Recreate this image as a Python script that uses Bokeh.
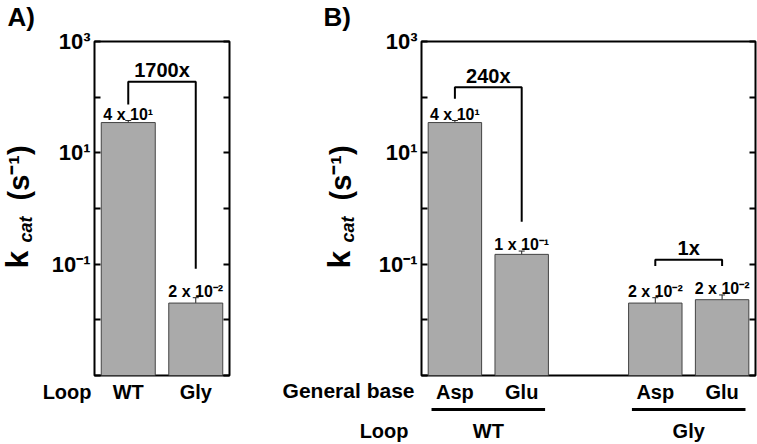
import math
from bokeh.plotting import figure
from bokeh.layouts import row
from bokeh.models import (Range1d, FixedTicker, LogAxis, Label, Whisker, TeeHead,
                          ColumnDataSource, GridBox)
from bokeh.core.properties import value
from bokeh.embed import file_html
from bokeh.resources import INLINE

FONT = "Liberation Sans"

# ---------------- data ----------------
# Panel A
a_loop = ["WT", "Gly"]
a_pos = [0, 1]
a_kcat = [35.0, 0.020]
a_err = [3.0, 0.005]
a_text = ["4 x 10\u00b9", "2 x 10\u207b\u00b2"]

# Panel B
b_base = ["Asp", "Glu", "Asp", "Glu"]
b_pos = [0, 1, 3, 4]
b_kcat = [35.0, 0.15, 0.020, 0.023]
b_err = [3.0, 0.022, 0.005, 0.005]
b_text = ["4 x 10\u00b9", "1 x 10\u207b\u00b9", "2 x 10\u207b\u00b2", "2 x 10\u207b\u00b2"]
b_loop_groups = ["WT", "Gly"]

# fold-change brackets: (left bar, right bar), label, bracket level, leg ends
a_brackets = [((0, 1), "1700x", 190.0, 74.0, 0.083)]
b_brackets = [((0, 1), "240x", 150.0, 94.0, 0.58),
              ((2, 3), "1x", 0.12, 0.093, 0.093)]

y_ticks = [10.0 ** k for k in range(-3, 4)]
y_labels = {1000.0: "10\u00b3", 10.0: "10\u00b9", 0.1: "10\u207b\u00b9"}

YMIN, YMAX = 1e-3, 1e3
W, H = 757, 444
TOP, BOTTOM = 41, 375
DEC = (BOTTOM - TOP) / 6.0
BASE_CORR = 0.33  # baseline correction (em) for alphabetic text


def ydata(py):
    # vertical pixel position -> data value (for text annotations)
    return 10 ** (3 - (py - TOP) / DEC)


def make_panel(width, bl, br, xmax, positions, vals, errs, texts, tick_labels, brackets):
    p = figure(width=width, height=H, y_axis_type="log",
               x_range=Range1d(-0.5, xmax), y_range=Range1d(YMIN, YMAX),
               output_backend="svg", toolbar_location=None,
               min_border_left=bl, min_border_right=br,
               min_border_top=TOP, min_border_bottom=H - BOTTOM)
    p.outline_line_color = "black"
    p.outline_line_width = 2
    p.background_fill_color = "white"
    p.border_fill_color = "white"
    p.xgrid.visible = False
    p.ygrid.visible = False

    ya = p.yaxis[0]
    ya.ticker = FixedTicker(ticks=y_ticks)
    ya.major_label_overrides = {t: y_labels.get(t, "") for t in y_ticks}
    ya.major_tick_in = 6
    ya.major_tick_out = 0
    ya.major_tick_line_width = 2
    ya.minor_tick_line_color = None
    ya.axis_line_color = None
    ya.major_label_standoff = 4
    ya.major_label_text_font = FONT
    ya.major_label_text_font_style = "bold"
    ya.major_label_text_font_size = "22px"
    ya.major_label_text_color = "black"

    ra = LogAxis(ticker=FixedTicker(ticks=y_ticks), major_tick_in=6, major_tick_out=0,
                 major_tick_line_width=2, minor_tick_line_color=None,
                 axis_line_color=None, major_label_standoff=0,
                 major_label_overrides={t: "" for t in y_ticks})
    p.add_layout(ra, "right")

    xa = p.xaxis[0]
    xa.ticker = FixedTicker(ticks=positions)
    xa.major_label_overrides = {pos: lab for pos, lab in zip(positions, tick_labels)}
    xa.major_tick_in = 0
    xa.major_tick_out = 0
    xa.major_tick_line_color = None
    xa.minor_tick_line_color = None
    xa.axis_line_color = None
    xa.major_label_standoff = 5
    xa.major_label_text_font = FONT
    xa.major_label_text_font_style = "bold"
    xa.major_label_text_font_size = "20px"
    xa.major_label_text_color = "black"

    src = ColumnDataSource(dict(
        x=positions, top=vals,
        upper=[v + e for v, e in zip(vals, errs)],
        lower=[v - e for v, e in zip(vals, errs)],
        ytext=[(v + e) * 1.3 for v, e in zip(vals, errs)],
        text=texts))
    p.vbar(x="x", top="top", bottom=YMIN, width=0.8, source=src,
           fill_color="#aaaaaa", line_color="#444444", line_width=1)
    p.add_layout(Whisker(base="x", upper="upper", lower="lower", source=src,
                         line_color="#222222", line_width=1,
                         upper_head=TeeHead(size=6, line_color="#222222", line_width=1),
                         lower_head=TeeHead(size=6, line_color="#222222", line_width=1)))
    p.text(x="x", y="ytext", text="text", source=src, text_align="center",
           text_baseline="alphabetic", text_font=value(FONT), text_font_style="bold",
           text_font_size="16px", text_color="black")

    xs, ys, bx, by, bt = [], [], [], [], []
    for (i, j), lab, level, lend, rend in brackets:
        xi, xj = positions[i], positions[j]
        xs.append([xi, xi, xj, xj])
        ys.append([lend, level, level, rend])
        bx.append((xi + xj) / 2)
        by.append(level * 1.6)
        bt.append(lab)
    p.multi_line(xs=xs, ys=ys, line_color="black", line_width=2)
    p.text(x=bx, y=by, text=bt, text_align="center", text_baseline="alphabetic",
           text_font=value(FONT), text_font_style="bold", text_font_size="20px",
           text_color="black")
    return p


# ---------------- panels ----------------
A_W, A_BL, A_BR = 250, 94, 21
B_W, B_BL, B_BR = 507, 171, 2
B_XMAX = 4.5
pa = make_panel(A_W, A_BL, A_BR, 1.5, a_pos, a_kcat, a_err, a_text, a_loop, a_brackets)
pb = make_panel(B_W, B_BL, B_BR, B_XMAX, b_pos, b_kcat, b_err, b_text, b_base, b_brackets)

# ---------------- transparent overlay for texts outside the frames ----------------
# shares panel B's x data mapping and the common log y mapping
UX = (B_W - B_BL - B_BR) / (B_XMAX + 0.5)
X0 = -0.5 - (A_W + B_BL) / UX
ov = figure(width=W, height=H, y_axis_type="log",
            x_range=Range1d(X0, X0 + W / UX), y_range=Range1d(ydata(H), ydata(0)),
            output_backend="svg", toolbar_location=None,
            x_axis_location=None, y_axis_location=None,
            min_border=0, min_border_left=0, min_border_right=0,
            min_border_top=0, min_border_bottom=0)
ov.outline_line_color = None
ov.background_fill_color = None
ov.border_fill_color = None
ov.xgrid.visible = False
ov.ygrid.visible = False


def xd(px):
    return X0 + px / UX


def put(x, py, txt, size, align="left", style="bold", angle=0.0):
    fs = float(size.replace("px", ""))
    if angle:
        x = x - BASE_CORR * fs / UX
    else:
        py = py - BASE_CORR * fs
    ov.add_layout(Label(x=x, y=ydata(py), text=txt, text_align=align,
                        text_baseline="alphabetic", angle=angle, text_font=FONT,
                        text_font_style=style, text_font_size=size, text_color="black"))


def ylabel(px):
    # px: baseline of the rotated "k (s^-1)" text
    r = math.pi / 2
    put(xd(px), 268, "k", "32px", angle=r)
    put(xd(px + 4), 242, "cat", "18px", style="bold italic", angle=r)
    put(xd(px + 1), 200, "(s\u207b\u00b9)", "29px", angle=r)


put(xd(7), 25, "A)", "26px")
ylabel(27)
put(xd(91), 398, "Loop", "20px", align="right")

put(xd(323), 25, "B)", "26px")
ylabel(349)
put(xd(414), 397, "General base", "21px", align="right")
put(xd(408), 437, "Loop", "20px", align="right")
groups = [(b_pos[0] + b_pos[1]) / 2, (b_pos[2] + b_pos[3]) / 2]
for gx, gname in zip(groups, b_loop_groups):
    put(gx, 437, gname, "20px", align="center")
ov.segment(x0=[g - 0.85 for g in groups], x1=[g + 0.85 for g in groups],
           y0=ydata(409), y1=ydata(409), line_color="black", line_width=3)

grid = GridBox(children=[(row(pa, pb), 0, 0), (ov, 0, 0)])
open("out.html", "w").write(file_html(grid, INLINE))
